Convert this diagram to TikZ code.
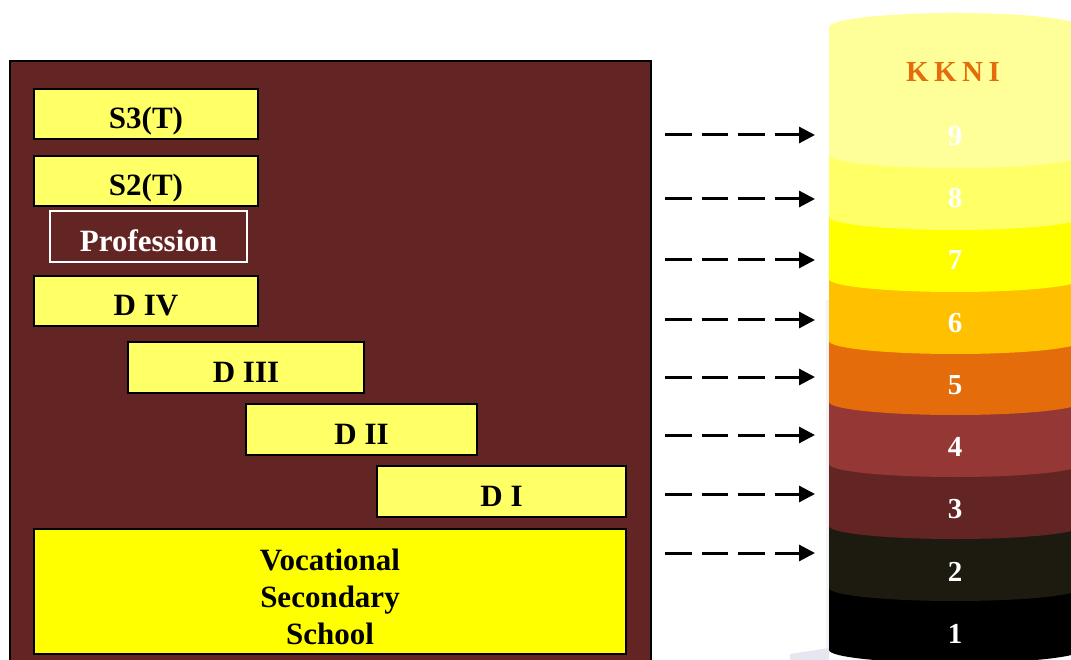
\documentclass[tikz,border=0pt]{standalone}
\usepackage{fontspec}
\setmainfont{Liberation Serif}
\usetikzlibrary{arrows.meta}
\definecolor{panelbrown}{HTML}{632523}
\definecolor{boxyellow}{HTML}{FFFF66}
\definecolor{vssyellow}{HTML}{FFFF00}
\definecolor{lvone}{HTML}{000000}
\definecolor{lvtwo}{HTML}{1D1B10}
\definecolor{lvthree}{HTML}{632523}
\definecolor{lvfour}{HTML}{953735}
\definecolor{lvfive}{HTML}{E46C0A}
\definecolor{lvsix}{HTML}{FFC000}
\definecolor{lvseven}{HTML}{FFFF00}
\definecolor{lveight}{HTML}{FFFF66}
\definecolor{lvnine}{HTML}{FFFF99}
\definecolor{kknicol}{HTML}{E46C0A}
\definecolor{shadowcol}{HTML}{E6E6F0}
\definecolor{edgecol}{HTML}{F3F3F7}
\tikzset{
  lvlbox/.style={draw=black, line width=1.6pt, fill=boxyellow, inner sep=0pt,
    text height=30pt, text depth=0pt, font=\fontsize{31}{37}\selectfont\bfseries},
  profbox/.style={lvlbox, draw=white, fill=none, text=white, line width=1.2pt},
  vssbox/.style={draw=black, line width=1.6pt, fill=vssyellow, inner sep=0pt,
    align=center, font=\fontsize{31}{37}\selectfont\bfseries},
  levelnum/.style={text=white, font=\fontsize{29}{34}\selectfont\bfseries,
    anchor=base, inner sep=0pt},
  kknilabel/.style={text=kknicol, font=\fontsize{29}{34}\selectfont\bfseries,
    anchor=base, inner sep=0pt},
  maparrow/.style={line width=3pt, dash pattern=on 26.5pt off 10pt,
    -{Triangle[length=16pt,width=16pt]}},
  cylarc/.style={x radius=126pt, y radius=13pt}
}
\begin{document}
\begin{tikzpicture}[x=1pt,y=-1pt]
\useasboundingbox (0,0) rectangle (1071,660);
\clip (0,0) rectangle (1071,660);

% left panel
\draw[line width=2pt, fill=panelbrown] (10,61) rectangle (651,680);

% qualification boxes
\node[lvlbox, minimum width=224pt, minimum height=50pt] (s3) at (146,114) {S3(T)};
\node[lvlbox, minimum width=224pt, minimum height=50pt] (s2) at (146,181) {S2(T)};
\node[profbox, minimum width=197pt, minimum height=51pt] (prof) at (148.5,236.5) {Profession};
\node[lvlbox, minimum width=224pt, minimum height=50pt] (d4) at (146,301) {D IV};
\node[lvlbox, minimum width=236pt, minimum height=51pt] (d3) at (246,367.5) {D III};
\node[lvlbox, minimum width=231pt, minimum height=51pt] (d2) at (361.5,429.5) {D II};
\node[lvlbox, minimum width=249pt, minimum height=51pt] (d1) at (501.5,491.5) {D I};
\node[vssbox, minimum width=592pt, minimum height=125pt] (vss) at (330,591.5)
  {\rule{0pt}{32pt}Vocational\\Secondary\\School};

% faint shadow of cylinder
\fill[edgecol] (826,300) rectangle (829,650);
\fill[shadowcol] (790,660) -- (790,654) -- (829,648) -- (829,660) -- cycle;

% cylinder layers (bottom first)
\foreach \bot/\top/\col in {650/588/lvone, 588/526/lvtwo, 526/464/lvthree,
   464/402/lvfour, 402/341/lvfive, 341/279/lvsix, 279/217/lvseven,
   217/155/lveight, 155/27/lvnine}{
  \fill[\col] (829,\top) -- (829,\bot) arc[start angle=180, end angle=360, cylarc] -- (1081,\top) -- cycle;
}
\fill[lvnine] (955,27) ellipse[x radius=126pt, y radius=14pt];

% cylinder labels
\node[kknilabel] (kkni) at (953,82) {K\kern5.5pt K\kern5.5pt N\kern5.5pt I};
\node[levelnum] (n9) at (955,145.6) {9};
\node[levelnum] (n8) at (955,207.8) {8};
\node[levelnum] (n7) at (955,270) {7};
\node[levelnum] (n6) at (955,332.2) {6};
\node[levelnum] (n5) at (955,394.4) {5};
\node[levelnum] (n4) at (955,456.6) {4};
\node[levelnum] (n3) at (955,518.8) {3};
\node[levelnum] (n2) at (955,581) {2};
\node[levelnum] (n1) at (955,643.2) {1};

% arrows
\foreach \i/\yy in {9/135, 8/199, 7/260, 6/320, 5/377, 4/435, 3/494, 2/553}{
  \coordinate (a\i) at (665,\yy);
  \coordinate (b\i) at (815,\yy);
  \draw[maparrow] (a\i) -- (b\i);
}
\end{tikzpicture}
\end{document}
